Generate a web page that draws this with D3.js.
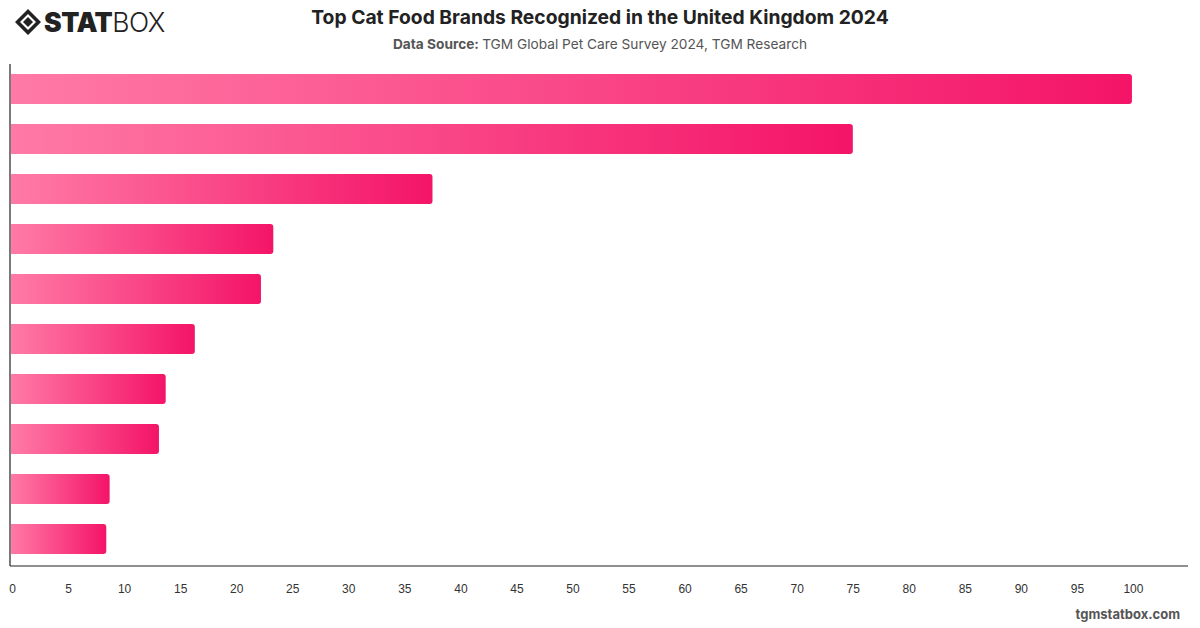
<!DOCTYPE html>
<html>
<head>
<meta charset="utf-8">
<script src="https://cdn.jsdelivr.net/npm/d3@7"></script>
<style>
  body { margin: 0; background: #fff; }
  svg { font-family: Inter, "Noto Sans", sans-serif; }
</style>
</head>
<body>
<div id="chart"></div>
<script>
// brands are not labelled in the picture, only the bars are
var brands = ["Brand 1", "Brand 2", "Brand 3", "Brand 4", "Brand 5",
              "Brand 6", "Brand 7", "Brand 8", "Brand 9", "Brand 10"];
var scores = [100, 75.1, 37.6, 23.4, 22.3, 16.4, 13.8, 13.2, 8.8, 8.5];
var tickValues = [0, 5, 10, 15, 20, 25, 30, 35, 40, 45, 50, 55, 60, 65, 70, 75, 80, 85, 90, 95, 100];

var W = 1200, H = 628;
var margin = {top: 64, right: 12, bottom: 63, left: 10};

var svg = d3.select("#chart")
    .append("svg")
    .attr("width", W)
    .attr("height", H);

var defs = svg.append("defs");
var grad = defs.append("linearGradient")
    .attr("id", "barGrad")
    .attr("x1", "0%").attr("x2", "100%")
    .attr("y1", "0%").attr("y2", "0%");
grad.append("stop").attr("offset", "0%").attr("stop-color", "#ff7aa6");
grad.append("stop").attr("offset", "100%").attr("stop-color", "#f41468");

var x = d3.scaleLinear()
    .domain([0, 105])
    .range([margin.left + 1, W - margin.right]);

var y = d3.scaleBand()
    .domain(brands)
    .range([margin.top, H - margin.bottom - 1])
    .paddingInner(0.4)
    .paddingOuter(0.2);

// bars: square left end, rounded right end
function barPath(d, i) {
    var x0 = x(0), x1 = x(scores[i]), y0 = y(d), h = y.bandwidth(), r = 3;
    return "M" + x0 + "," + y0 +
        "H" + (x1 - r) +
        "Q" + x1 + "," + y0 + " " + x1 + "," + (y0 + r) +
        "V" + (y0 + h - r) +
        "Q" + x1 + "," + (y0 + h) + " " + (x1 - r) + "," + (y0 + h) +
        "H" + x0 + "Z";
}

svg.append("g")
    .selectAll("path")
    .data(brands)
    .enter()
    .append("path")
    .attr("d", barPath)
    .style("fill", "url(#barGrad)");

// x axis
var xAxis = svg.append("g")
    .attr("transform", "translate(0," + (H - margin.bottom + 1) + ")")
    .call(d3.axisBottom(x).tickValues(tickValues).tickSize(0).tickPadding(18));
xAxis.select(".domain").attr("stroke", "#222").attr("stroke-width", 1.2)
    .attr("d", "M" + margin.left + ",0H" + (W - margin.right));
xAxis.selectAll("text")
    .style("font-size", "12px")
    .style("fill", "#333")
    .attr("dx", "1");

// y axis line
svg.append("line")
    .attr("x1", margin.left).attr("x2", margin.left)
    .attr("y1", margin.top).attr("y2", H - margin.bottom + 1)
    .attr("stroke", "#222").attr("stroke-width", 1.2);

// titles
svg.append("text")
    .attr("x", 600).attr("y", 24)
    .style("text-anchor", "middle")
    .style("font-size", "19.3px")
    .style("font-weight", "bold")
    .style("fill", "#222")
    .text("Top Cat Food Brands Recognized in the United Kingdom 2024");

var sub = svg.append("text")
    .attr("x", 600).attr("y", 49)
    .style("text-anchor", "middle")
    .style("font-size", "13.7px")
    .style("fill", "#555");
sub.append("tspan").style("font-weight", "bold").text("Data Source: ");
sub.append("tspan").text("TGM Global Pet Care Survey 2024, TGM Research");

svg.append("text")
    .attr("x", 1180).attr("y", 619)
    .style("text-anchor", "end")
    .style("font-size", "13px")
    .style("font-weight", "bold")
    .style("fill", "#555")
    .text("tgmstatbox.com");

// logo
var logo = svg.append("g").attr("transform", "translate(15,8)");
logo.append("path")
    .attr("d", "M13,1 L26,14 L13,27 L0,14 Z M13,6 L21,14 L13,22 L5,14 Z")
    .attr("fill-rule", "evenodd")
    .attr("fill", "#222");
logo.append("path")
    .attr("d", "M13,9 L18,14 L13,19 L8,14 Z")
    .attr("fill", "#222");
logo.append("text")
    .attr("x", 29).attr("y", 24)
    .style("font-size", "26.5px")
    .style("font-weight", "900")
    .style("letter-spacing", "-0.5px")
    .style("fill", "#222")
    .text("STAT")
    .append("tspan")
    .style("font-weight", "300")
    .text("BOX");
</script>
</body>
</html>
